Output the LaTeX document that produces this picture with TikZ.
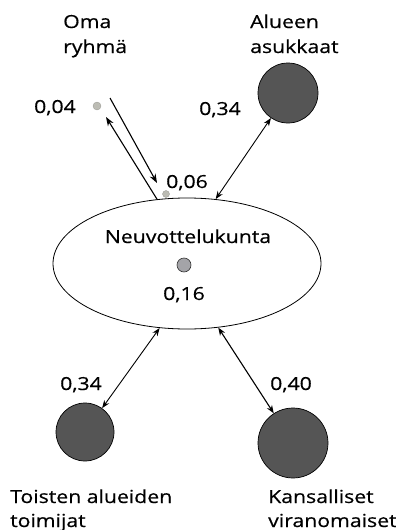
\documentclass[tikz,border=0pt]{standalone}
\usepackage{fontspec}
\setmainfont[FakeStretch=1.18,FakeBold=0.5]{Open Sans}
\usetikzlibrary{arrows.meta,shapes.geometric}
\definecolor{darkdot}{HTML}{555555}
\definecolor{middot}{HTML}{A4A4A8}
\definecolor{lightdot}{HTML}{BCBCB4}
\begin{document}
\begin{tikzpicture}[x=1pt,y=-1pt,
  lbl/.style={inner sep=0pt,anchor=base west,font=\fontsize{18}{25}\selectfont,align=left},
  bigdot/.style={circle,draw=black,line width=0.7pt,fill=darkdot,inner sep=0pt},
  smalldot/.style={circle,fill=lightdot,draw=lightdot!80!black,line width=0.3pt,inner sep=0pt},
  conn/.style={line width=0.9pt,{Stealth[length=8pt,width=6pt]}-{Stealth[length=8pt,width=6pt]}},
  oneway/.style={line width=1.1pt,-{Stealth[length=9pt,width=6.5pt]}}
]
\useasboundingbox (0,0) rectangle (396,530);
% central ellipse
\node[ellipse,draw=black,line width=0.8pt,minimum width=268pt,minimum height=131pt,inner sep=0pt] (N) at (187,263.5) {};
\node[lbl,anchor=base] (Ntext) at (188,243) {Neuvottelukunta};
\node[circle,draw=black!80,line width=0.6pt,fill=middot,minimum size=14pt,inner sep=0pt] (Ndot) at (184,265) {};
\node[lbl,anchor=base] (N16) at (184,300) {0,16};
% outer circles
\node[bigdot,minimum size=60pt] (A) at (288,93) {};
\node[bigdot,minimum size=58pt] (T) at (85,432) {};
\node[bigdot,minimum size=70pt] (K) at (293,443) {};
% small dots
\node[smalldot,minimum size=8pt] (O) at (97,106) {};
\node[smalldot,minimum size=7pt] (S) at (166,194) {};
% labels
\node[lbl] (Ol1) at (63,28) {Oma};
\node[lbl] (Ol2) at (63,53) {ryhmä};
\node[lbl] (Al1) at (250,28) {Alueen};
\node[lbl] (Al2) at (250,53) {asukkaat};
\node[lbl,anchor=base east] (v04) at (76,113) {0,04};
\node[lbl] (v06) at (166,188) {0,06};
\node[lbl] (v34a) at (199,115) {0,34};
\node[lbl] (v34b) at (60,390) {0,34};
\node[lbl] (v40) at (270,390) {0,40};
\node[lbl] (Tl1) at (10,503) {Toisten alueiden};
\node[lbl] (Tl2) at (10,527) {toimijat};
\node[lbl] (Kl1) at (268,503) {Kansalliset};
\node[lbl] (Kl2) at (268,527) {viranomaiset};
% connectors
\coordinate (o1) at (110,98);
\coordinate (s1) at (157,183);
\coordinate (o2) at (106,117);
\draw[oneway] (o1) -- (s1);
\draw[oneway] (N.115) -- (o2);
\draw[conn] (N.66) -- (A);
\draw[conn] (N.247) -- (T);
\draw[conn,line width=1.1pt] (N.296) -- (K);
\end{tikzpicture}
\end{document}
